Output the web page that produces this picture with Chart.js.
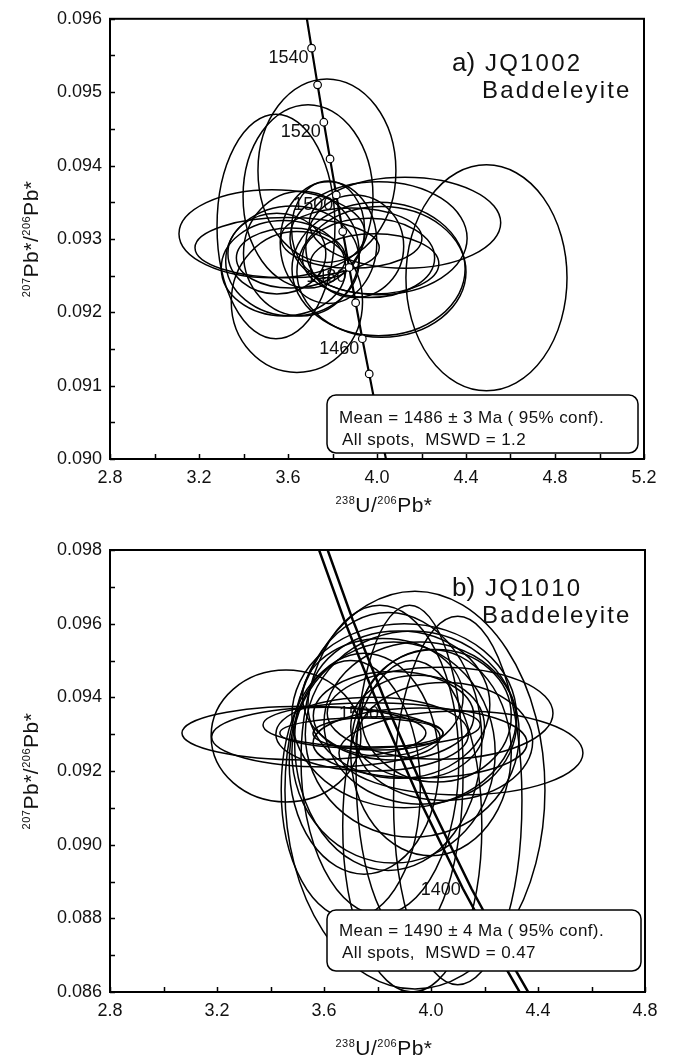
<!DOCTYPE html>
<html>
<head>
<meta charset="utf-8">
<script src="https://cdn.jsdelivr.net/npm/chart.js@4.4.1/dist/chart.umd.min.js"></script>
<style>
  html, body { margin: 0; padding: 0; background: #fff; }
  body { width: 676px; height: 1057px; position: relative; overflow: hidden; }
  canvas { position: absolute; left: 0; }
  #chartA { top: 0; }
  #chartB { top: 530px; }
</style>
</head>
<body>
<canvas id="chartA" width="676" height="530"></canvas>
<canvas id="chartB" width="676" height="527"></canvas>
<script>
// ---------- panel a) JQ1002 ----------
const ticksXA = ['2.8', '3.2', '3.6', '4.0', '4.4', '4.8', '5.2'];
const ticksYA = ['0.090', '0.091', '0.092', '0.093', '0.094', '0.095', '0.096'];

// concordia points (age in Ma, 238U/206Pb, 207Pb/206Pb)
const concAges = [1420, 1430, 1440, 1450, 1460, 1470, 1480, 1490, 1500, 1510, 1520, 1530, 1540, 1550];
const concX = [4.058, 4.026, 3.995, 3.965, 3.934, 3.904, 3.875, 3.846, 3.817, 3.789, 3.761, 3.733, 3.706, 3.679];
const concY = [0.08974, 0.09021, 0.09069, 0.09116, 0.09164, 0.09213, 0.09261, 0.09310, 0.09360, 0.09409, 0.09459, 0.09510, 0.09560, 0.09611];
const ageLabelsA = [1460, 1480, 1500, 1520, 1540];

// error ellipses: centre and half axes
const ellAX  = [4.492, 3.775, 3.690, 3.546, 3.640, 3.528, 3.596, 3.613, 3.620, 3.550, 3.580, 4.126, 4.007, 4.007, 4.020, 3.962, 3.885, 3.989, 3.780, 3.782, 3.660, 3.900];
const ellAY  = [0.09247, 0.09393, 0.09358, 0.09317, 0.09214, 0.09307, 0.09288, 0.09274, 0.09270, 0.09280, 0.09260, 0.09322, 0.09301, 0.09259, 0.09255, 0.09274, 0.09301, 0.09266, 0.09313, 0.09295, 0.09280, 0.09290];
const ellASX = [0.362, 0.310, 0.292, 0.265, 0.295, 0.418, 0.414, 0.245, 0.300, 0.220, 0.280, 0.430, 0.398, 0.389, 0.380, 0.297, 0.317, 0.289, 0.164, 0.217, 0.260, 0.220];
const ellASY = [0.00154, 0.00125, 0.00125, 0.00153, 0.00096, 0.00060, 0.00041, 0.00041, 0.00075, 0.00055, 0.00065, 0.00062, 0.00077, 0.00091, 0.00089, 0.00054, 0.00041, 0.00041, 0.00066, 0.00083, 0.00085, 0.00070];

// ---------- panel b) JQ1010 ----------
const ticksXB = ['2.8', '3.2', '3.6', '4.0', '4.4', '4.8'];
const ticksYB = ['0.086', '0.088', '0.090', '0.092', '0.094', '0.096', '0.098'];

// concordia band (two edges)
const bandAges = [1330, 1350, 1400, 1450, 1500, 1550, 1600];
const bandY = [0.08564, 0.08653, 0.08881, 0.09116, 0.09360, 0.09611, 0.09872];
const bandLeftX = [4.360, 4.289, 4.119, 3.961, 3.813, 3.675, 3.546];
const bandRightX = [4.392, 4.321, 4.151, 3.993, 3.845, 3.707, 3.578];
const ageLabelsB = [1400, 1500];

const ellBX  = [3.525, 3.607, 3.778, 3.740, 3.802, 4.112, 4.034, 3.959, 3.458, 3.940, 3.809, 3.900, 3.930, 3.860, 3.960, 3.880, 3.840, 4.000, 3.750, 3.700, 4.020, 3.820, 3.920, 3.930, 4.100, 3.860, 3.950, 3.780, 4.050];
const ellBY  = [0.09303, 0.09292, 0.09325, 0.09303, 0.09302, 0.09249, 0.09357, 0.09276, 0.09295, 0.09148, 0.09230, 0.09350, 0.09300, 0.09250, 0.09330, 0.09380, 0.09280, 0.09250, 0.09220, 0.09150, 0.09350, 0.09400, 0.09200, 0.09050, 0.09120, 0.09350, 0.09320, 0.09300, 0.09280];
const ellBSX = [0.456, 0.427, 0.406, 0.305, 0.243, 0.456, 0.422, 0.400, 0.280, 0.486, 0.295, 0.420, 0.400, 0.380, 0.360, 0.340, 0.350, 0.300, 0.280, 0.260, 0.280, 0.300, 0.200, 0.260, 0.240, 0.300, 0.250, 0.360, 0.330];
const ellBSY = [0.00073, 0.00081, 0.00060, 0.00041, 0.00045, 0.00114, 0.00125, 0.00095, 0.00179, 0.00540, 0.00420, 0.00250, 0.00280, 0.00300, 0.00220, 0.00200, 0.00350, 0.00280, 0.00300, 0.00350, 0.00180, 0.00160, 0.00450, 0.00450, 0.00500, 0.00120, 0.00140, 0.00100, 0.00160];

const FONT = '"Liberation Sans", Arial, Helvetica, sans-serif';
const INK = '#000';

// text with superscripts, centred on (cx, cy)
function richText(ctx, parts, cx, cy) {
    const big = 21, small = 11;
    let w = 0;
    parts.forEach(p => {
        ctx.font = (p.sup ? small : big) + 'px ' + FONT;
        w += ctx.measureText(p.t).width;
    });
    let x = cx - w / 2;
    const base = cy + big * 0.36;
    ctx.textAlign = 'left';
    ctx.textBaseline = 'alphabetic';
    parts.forEach(p => {
        ctx.font = (p.sup ? small : big) + 'px ' + FONT;
        ctx.fillText(p.t, x, p.sup ? base - 8 : base);
        x += ctx.measureText(p.t).width;
    });
}

const xTitle = [{ t: '238', sup: true }, { t: 'U/' }, { t: '206', sup: true }, { t: 'Pb*' }];
const yTitle = [{ t: '207', sup: true }, { t: 'Pb*/' }, { t: '206', sup: true }, { t: 'Pb*' }];

function panelPlugin(p) {
    return {
        id: 'panel',
        beforeDatasetsDraw(chart) {
            const { ctx, chartArea: a, scales: { x, y } } = chart;
            ctx.save();
            // age labels go under the ellipses
            ctx.font = '18px ' + FONT;
            ctx.fillStyle = '#111';
            ctx.textAlign = 'right';
            ctx.textBaseline = 'middle';
            p.ageLabels.forEach(age => {
                const i = p.ages.indexOf(age);
                ctx.fillText(String(age), x.getPixelForValue(p.ageX[i]) + p.labelDx, y.getPixelForValue(p.ageY[i]) + p.labelDy);
            });
            ctx.beginPath();
            ctx.rect(a.left, a.top, a.width, a.height);
            ctx.clip();
            ctx.lineWidth = 1.5;
            ctx.strokeStyle = INK;
            p.ex.forEach((cx, i) => {
                const px = x.getPixelForValue(cx), py = y.getPixelForValue(p.ey[i]);
                const rx = Math.abs(x.getPixelForValue(cx + p.esx[i]) - px);
                const ry = Math.abs(y.getPixelForValue(p.ey[i] + p.esy[i]) - py);
                ctx.beginPath();
                ctx.ellipse(px, py, rx, ry, 0, 0, Math.PI * 2);
                ctx.stroke();
            });
            ctx.restore();
        },
        afterDatasetsDraw(chart) {
            const { ctx, chartArea: a } = chart;
            const b = p.box;
            const bx = a.right - b.right - b.w, by = a.bottom - b.bottom - b.h;
            ctx.save();
            ctx.beginPath();
            ctx.roundRect(bx, by, b.w, b.h, 9);
            ctx.fillStyle = '#fff';
            ctx.fill();
            ctx.lineWidth = 1.5;
            ctx.strokeStyle = INK;
            ctx.stroke();
            ctx.fillStyle = '#111';
            ctx.font = '17px ' + FONT;
            ctx.letterSpacing = '0.4px';
            ctx.textAlign = 'left';
            ctx.textBaseline = 'middle';
            ctx.fillText(p.mean, bx + 12, by + b.line1);
            ctx.fillText(p.mswd, bx + 15, by + b.line2);
            ctx.restore();
        },
        afterDraw(chart) {
            const { ctx, chartArea: a, scales: { x, y } } = chart;
            ctx.save();
            ctx.strokeStyle = INK;
            // inward tick marks
            ctx.lineWidth = 1.5;
            ctx.beginPath();
            x.ticks.forEach(t => {
                const px = Math.round(x.getPixelForValue(t.value)) + 0.5;
                ctx.moveTo(px, a.bottom);
                ctx.lineTo(px, a.bottom - 5);
            });
            y.ticks.forEach(t => {
                const py = Math.round(y.getPixelForValue(t.value)) + 0.5;
                ctx.moveTo(a.left, py);
                ctx.lineTo(a.left + 5, py);
            });
            ctx.stroke();
            // frame
            ctx.lineWidth = 2;
            ctx.strokeRect(a.left, a.top, a.width, a.height);
            // sample label
            ctx.fillStyle = '#111';
            ctx.textAlign = 'left';
            ctx.textBaseline = 'alphabetic';
            ctx.font = '26px ' + FONT;
            ctx.fillText(p.tag, 452, a.top + p.tagBase);
            ctx.font = '24px ' + FONT;
            ctx.letterSpacing = '2.2px';
            ctx.fillText(p.sample, 485, a.top + p.tagBase);
            ctx.fillText('Baddeleyite', 482, a.top + p.tagBase + 27);
            ctx.letterSpacing = '0.5px';
            // axis titles
            richText(ctx, xTitle, 384, a.bottom + p.xTitleGap);
            ctx.translate(30, (a.top + a.bottom) / 2);
            ctx.rotate(-Math.PI / 2);
            richText(ctx, yTitle, 0, 0);
            ctx.restore();
        }
    };
}

function tickLabel(labels, dec) {
    return v => {
        const s = v.toFixed(dec);
        return (labels.includes(s) && Math.abs(v - parseFloat(s)) < 1e-9) ? s : '';
    };
}

function makeChart(id, p) {
    const tickFont = { family: FONT, size: 18 };
    return new Chart(document.getElementById(id), {
        type: 'scatter',
        data: { datasets: p.datasets },
        options: {
            responsive: false,
            animation: false,
            events: [],
            layout: { padding: p.padding },
            plugins: { legend: { display: false }, tooltip: { enabled: false } },
            scales: {
                x: {
                    type: 'linear', min: p.xMin, max: p.xMax,
                    grid: { display: false, drawTicks: false },
                    border: { display: false },
                    ticks: {
                        stepSize: 0.2, maxTicksLimit: 40, autoSkip: false, maxRotation: 0,
                        padding: 8, font: tickFont, color: '#111',
                        callback: tickLabel(p.xLabels, 1)
                    },
                    afterFit: s => { s.height = p.xAxisH; }
                },
                y: {
                    type: 'linear', min: p.yMin, max: p.yMax,
                    grid: { display: false, drawTicks: false },
                    border: { display: false },
                    ticks: {
                        stepSize: p.yStep, maxTicksLimit: 40, autoSkip: false,
                        padding: 8, font: tickFont, color: '#111',
                        callback: tickLabel(p.yLabels, 3)
                    },
                    afterFit: s => { s.width = 110; }
                }
            }
        },
        plugins: [panelPlugin(p)]
    });
}

makeChart('chartA', {
    xMin: 2.8, xMax: 5.2, yMin: 0.090, yMax: 0.096, yStep: 0.0005,
    xLabels: ticksXA, yLabels: ticksYA,
    padding: { top: 16, right: 32, left: 0, bottom: 0 },
    xAxisH: 71, xTitleGap: 45,
    datasets: [{
        data: concAges.map((a, i) => ({ x: concX[i], y: concY[i] })),
        showLine: true,
        borderColor: INK,
        borderWidth: 2.2,
        pointRadius: 3.8,
        pointBackgroundColor: '#fff',
        pointBorderColor: INK,
        pointBorderWidth: 1.2
    }],
    ages: concAges, ageX: concX, ageY: concY, ageLabels: ageLabelsA, labelDx: -3, labelDy: 10,
    ex: ellAX, ey: ellAY, esx: ellASX, esy: ellASY,
    box: { right: 6, bottom: 6, w: 311, h: 58, line1: 23, line2: 45 },
    mean: 'Mean = 1486 \u00b1 3 Ma ( 95% conf).',
    mswd: 'All spots,  MSWD = 1.2',
    tag: 'a)', sample: 'JQ1002', tagBase: 52
});

makeChart('chartB', {
    xMin: 2.8, xMax: 4.8, yMin: 0.086, yMax: 0.098, yStep: 0.001,
    xLabels: ticksXB, yLabels: ticksYB,
    padding: { top: 20, right: 31, left: 0, bottom: 0 },
    xAxisH: 65, xTitleGap: 55,
    datasets: [bandLeftX, bandRightX].map(xs => ({
        data: bandAges.map((a, i) => ({ x: xs[i], y: bandY[i] })),
        showLine: true,
        borderColor: INK,
        borderWidth: 2.5,
        pointRadius: 0
    })),
    ages: bandAges, ageX: bandLeftX, ageY: bandY, ageLabels: ageLabelsB, labelDx: -2, labelDy: 2,
    ex: ellBX, ey: ellBY, esx: ellBSX, esy: ellBSY,
    box: { right: 4, bottom: 21, w: 314, h: 61, line1: 21, line2: 43 },
    mean: 'Mean = 1490 \u00b1 4 Ma ( 95% conf).',
    mswd: 'All spots,  MSWD = 0.47',
    tag: 'b)', sample: 'JQ1010', tagBase: 46
});
</script>
</body>
</html>
